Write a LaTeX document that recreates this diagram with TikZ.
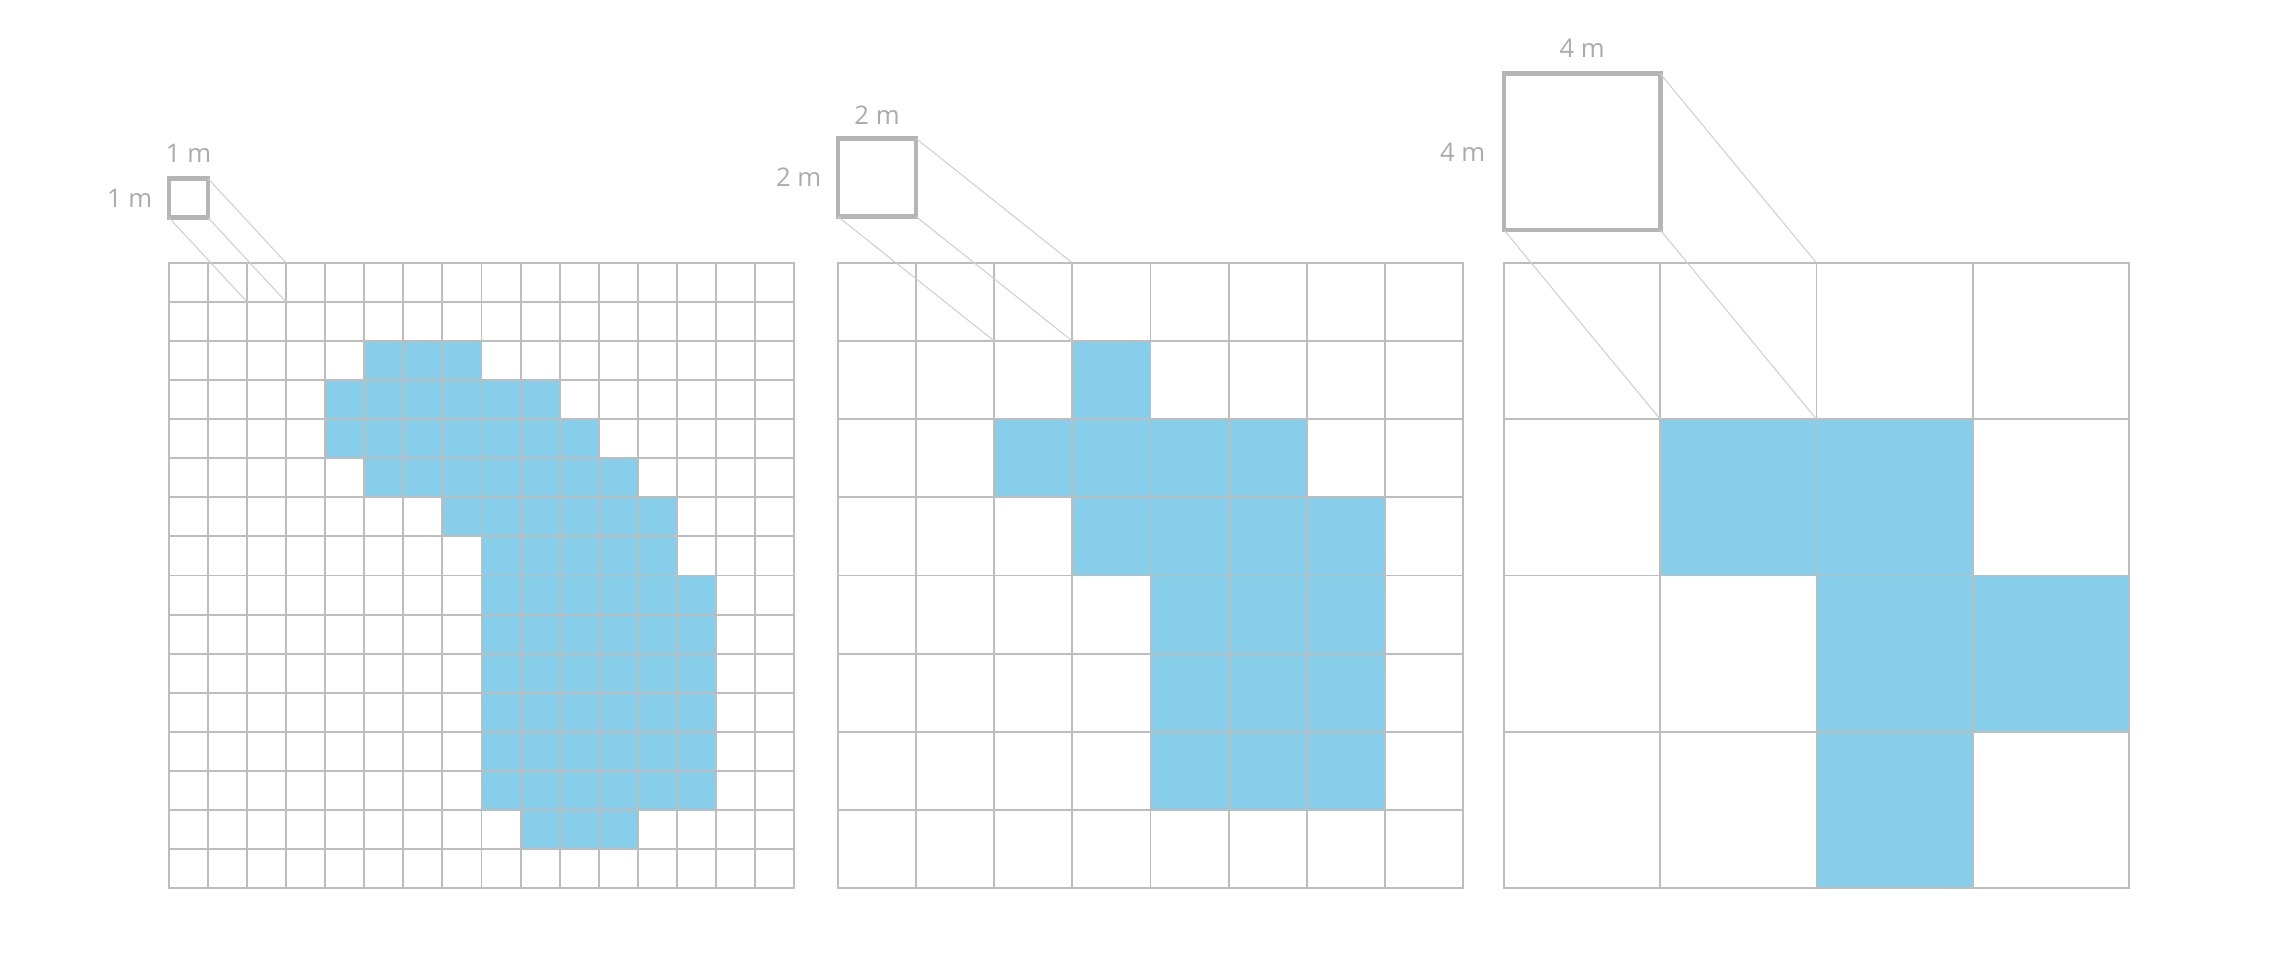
\documentclass[tikz,border=0pt]{standalone}
\usepackage{fontspec}
\setsansfont{Open Sans}
\usepackage{tikz}
\usetikzlibrary{positioning}
\usetikzlibrary{calc}

\definecolor{cellblue}{HTML}{87CEEB}
\definecolor{gridgray}{HTML}{BDBDBD}
\definecolor{boxgray}{HTML}{B5B5B5}
\definecolor{textgray}{HTML}{ABABAB}
\definecolor{linkgray}{HTML}{CFCFCF}

\begin{document}
\begin{tikzpicture}[
    grid line/.style={draw=gridgray, line width=0.55pt, line cap=rect},
    unit box/.style={draw=boxgray, line width=1.3pt, inner sep=0pt, outer sep=0pt, minimum size=#1},
    target cell/.style={inner sep=0pt, outer sep=0pt, minimum size=#1},
    size label/.style={text=textgray, inner sep=0pt, font=\sffamily\fontsize{7.3}{8}\selectfont},
    zoom link/.style={draw=linkgray, line width=0.3pt},
    blue cell/.style={fill=cellblue, draw=none}
  ]
  \useasboundingbox (0,0) rectangle (22.81,9.54);

\begin{scope}[shift={(1.69,0.66)}]
  \def\cell{0.390625}
  \foreach \r/\a/\b in {2/5/7, 3/4/9, 4/4/10, 5/5/11, 6/7/12, 7/8/12, 8/8/13, 9/8/13,
                        10/8/13, 11/8/13, 12/8/13, 13/8/13, 14/9/11}
    \fill[blue cell] (\a*\cell, {6.25-\r*\cell}) rectangle ({(\b+1)*\cell}, {6.25-(\r+1)*\cell});
  \foreach \i in {0,...,16} {
    \draw[grid line] (\i*\cell,0) -- (\i*\cell,6.25);
    \draw[grid line] (0,\i*\cell) -- (6.25,\i*\cell);
  }

  \node[unit box=\cell cm] (box1) at (0.5*\cell, 6.703+0.5*\cell) {};
  \node[size label, above=0.15cm of box1] (box1 top) {1 m};
  \node[size label, left=0.16cm of box1] (box1 side) {1 m};

  \node[target cell=\cell cm] (cell1) at (2.5*\cell, 6.25-0.5*\cell) {};
  \draw[zoom link] (box1.south west) -- (cell1.south west);
  \draw[zoom link] (box1.north east) -- (cell1.north east);
  \draw[zoom link] (box1.south east) -- (cell1.south east);
\end{scope}

\begin{scope}[shift={(8.38,0.66)}]
  \def\cell{0.78125}
  \foreach \r/\a/\b in {1/3/3, 2/2/5, 3/3/6, 4/4/6, 5/4/6, 6/4/6}
    \fill[blue cell] (\a*\cell, {6.25-\r*\cell}) rectangle ({(\b+1)*\cell}, {6.25-(\r+1)*\cell});
  \foreach \i in {0,...,8} {
    \draw[grid line] (\i*\cell,0) -- (\i*\cell,6.25);
    \draw[grid line] (0,\i*\cell) -- (6.25,\i*\cell);
  }

  \node[unit box=\cell cm] (box2) at (0.5*\cell, 6.713+0.5*\cell) {};
  \node[size label, above=0.13cm of box2] (box2 top) {2 m};
  \node[size label, left=0.16cm of box2] (box2 side) {2 m};

  \node[target cell=\cell cm] (cell2) at (2.5*\cell, 6.25-0.5*\cell) {};
  \draw[zoom link] (box2.south west) -- (cell2.south west);
  \draw[zoom link] (box2.north east) -- (cell2.north east);
  \draw[zoom link] (box2.south east) -- (cell2.south east);
\end{scope}

\begin{scope}[shift={(15.04,0.66)}]
  \def\cell{1.5625}
  \foreach \r/\a/\b in {1/1/2, 2/2/3, 3/2/2}
    \fill[blue cell] (\a*\cell, {6.25-\r*\cell}) rectangle ({(\b+1)*\cell}, {6.25-(\r+1)*\cell});
  \foreach \i in {0,...,4} {
    \draw[grid line] (\i*\cell,0) -- (\i*\cell,6.25);
    \draw[grid line] (0,\i*\cell) -- (6.25,\i*\cell);
  }

  \node[unit box=\cell cm] (box4) at (0.5*\cell, 6.58+0.5*\cell) {};
  \node[size label, above=0.16cm of box4] (box4 top) {4 m};
  \node[size label, left=0.18cm of box4] (box4 side) {4 m};

  \node[target cell=\cell cm] (cell4) at (1.5*\cell, 6.25-0.5*\cell) {};
  \draw[zoom link] (box4.south west) -- (cell4.south west);
  \draw[zoom link] (box4.north east) -- (cell4.north east);
  \draw[zoom link] (box4.south east) -- (cell4.south east);
\end{scope}

\end{tikzpicture}
\end{document}
